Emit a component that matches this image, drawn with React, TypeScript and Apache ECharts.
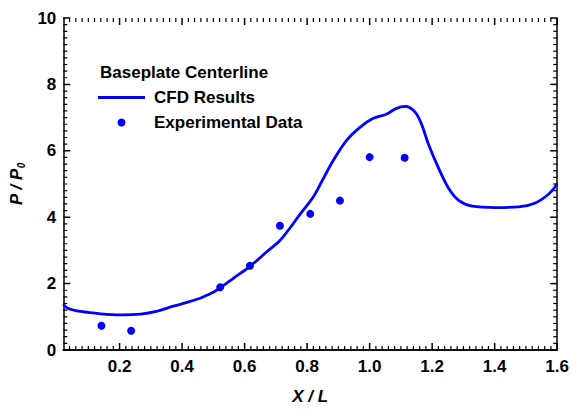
import React, { useEffect, useRef } from "react";
import * as echarts from "echarts";

// Pressure ratio along the baseplate centerline
const cfdX = [0.02, 0.034, 0.076, 0.14, 0.203, 0.267, 0.321, 0.372, 0.458, 0.5, 0.52, 0.564, 0.617, 0.67, 0.713, 0.755, 0.774, 0.819, 0.851, 0.883, 0.925, 0.968, 1.01, 1.053, 1.084, 1.114, 1.143, 1.164, 1.19, 1.222, 1.254, 1.286, 1.328, 1.403, 1.477, 1.53, 1.573, 1.6];
const cfdY = [1.38, 1.26, 1.16, 1.09, 1.06, 1.08, 1.17, 1.32, 1.56, 1.74, 1.86, 2.16, 2.52, 2.95, 3.3, 3.8, 4.05, 4.6, 5.15, 5.7, 6.3, 6.7, 6.97, 7.1, 7.27, 7.34, 7.19, 6.85, 6.15, 5.45, 4.85, 4.5, 4.33, 4.29, 4.31, 4.43, 4.7, 5.0];

const expX = [0.142, 0.237, 0.522, 0.617, 0.713, 0.81, 0.905, 1.0, 1.112];
const expY = [0.73, 0.58, 1.89, 2.54, 3.74, 4.1, 4.5, 5.81, 5.79];

const xMajorTicks = [0.2, 0.4, 0.6, 0.8, 1.0, 1.2, 1.4, 1.6];
const yMajorTicks = [0, 2, 4, 6, 8, 10];
const xMin = 0.02;
const xMax = 1.6;
const yMin = 0;
const yMax = 10;

// minor ticks: every 0.02 along x, every 0.2 along y
const xMinorTicks: number[] = [];
for (let i = 2; i < 80; i++) {
  if (i % 10 !== 0) xMinorTicks.push(Math.round(i * 2) / 100);
}
const yMinorTicks: number[] = [];
for (let i = 1; i < 50; i++) {
  if (i % 10 !== 0) yMinorTicks.push(Math.round(i * 2) / 10);
}

const FONT = "'Liberation Sans', Arial, Helvetica, sans-serif";
const BLUE = "#0000ff";
const MAJOR = 7;
const MINOR = 4;

export default function App() {
  const ref = useRef<HTMLDivElement>(null);

  useEffect(() => {
    if (!ref.current) return;
    const chart = echarts.init(ref.current, undefined, { renderer: "svg" });

    const frame = { show: true, lineStyle: { color: "#000", width: 1.5 } };
    const xBase = { type: "value" as const, min: xMin, max: xMax, splitLine: { show: false } };
    const yBase = { type: "value" as const, min: yMin, max: yMax, splitLine: { show: false } };

    // tick marks on all four sides, drawn as thin filled bars pointing into the plot
    const xTickData = [...xMajorTicks.map((v) => [v, MAJOR]), ...xMinorTicks.map((v) => [v, MINOR])];
    const yTickData = [...yMajorTicks.map((v) => [v, MAJOR]), ...yMinorTicks.map((v) => [v, MINOR])];
    const tickWidth = (len: number) => (len === MAJOR ? 1.5 : 1.2);
    const tickFill = { fill: "#000" };

    const renderXTick = (_p: unknown, api: any) => {
      const v = api.value(0);
      const len = api.value(1);
      const w = tickWidth(len);
      const b = api.coord([v, yMin]);
      const t = api.coord([v, yMax]);
      return {
        type: "group",
        children: [
          { type: "rect", shape: { x: b[0] - w / 2, y: b[1] - len, width: w, height: len }, style: tickFill },
          { type: "rect", shape: { x: t[0] - w / 2, y: t[1], width: w, height: len }, style: tickFill },
        ],
      };
    };
    const renderYTick = (_p: unknown, api: any) => {
      const v = api.value(0);
      const len = api.value(1);
      const w = tickWidth(len);
      const l = api.coord([xMin, v]);
      const r = api.coord([xMax, v]);
      return {
        type: "group",
        children: [
          { type: "rect", shape: { x: l[0], y: l[1] - w / 2, width: len, height: w }, style: tickFill },
          { type: "rect", shape: { x: r[0] - len, y: r[1] - w / 2, width: len, height: w }, style: tickFill },
        ],
      };
    };

    chart.setOption({
      animation: false,
      backgroundColor: "#fff",
      textStyle: { fontFamily: FONT },
      grid: { left: 62, right: 13, top: 18, bottom: 58, containLabel: false },
      graphic: [
        {
          type: "text",
          left: 100,
          top: 64,
          style: { text: "Baseplate Centerline", font: `bold 17px ${FONT}`, fill: "#000" },
        },
      ],
      legend: {
        orient: "vertical",
        left: 98,
        top: 89,
        padding: 0,
        itemWidth: 47,
        itemHeight: 8,
        itemGap: 8,
        textStyle: { fontSize: 17, fontWeight: "bold", color: "#000", fontFamily: FONT, padding: [0, 0, 0, 4] },
        data: [
          { name: "CFD Results", icon: "path://M0,0L47,0L47,3L0,3Z" },
          { name: "Experimental Data", icon: "circle" },
        ],
      },
      xAxis: [
        {
          ...xBase,
          position: "bottom",
          name: "X / L",
          nameLocation: "middle",
          nameGap: 38,
          nameTextStyle: { fontSize: 17, fontWeight: "bold", fontStyle: "italic", color: "#000", fontFamily: FONT },
          axisLine: frame,
          axisTick: { show: false },
          axisLabel: {
            show: true,
            margin: 8,
            fontSize: 17,
            fontWeight: "bold",
            color: "#000",
            fontFamily: FONT,
            customValues: xMajorTicks,
            formatter: (v: number) => v.toFixed(1),
          },
        },
        { ...xBase, position: "top", axisLine: frame, axisTick: { show: false }, axisLabel: { show: false } },
      ],
      yAxis: [
        {
          ...yBase,
          position: "left",
          name: "{m|P / P}{s|0}",
          nameLocation: "middle",
          nameRotate: 90,
          nameGap: 34,
          nameTextStyle: {
            color: "#000",
            rich: {
              m: { fontSize: 17, fontWeight: "bold", fontStyle: "italic", fontFamily: FONT, color: "#000", lineHeight: 20, verticalAlign: "middle" },
              s: { fontSize: 10, fontWeight: "bold", fontStyle: "italic", fontFamily: FONT, color: "#000", lineHeight: 20, verticalAlign: "bottom" },
            },
          },
          axisLine: frame,
          axisTick: { show: false },
          axisLabel: { margin: 7, fontSize: 17, fontWeight: "bold", color: "#000", fontFamily: FONT, customValues: yMajorTicks },
        },
        { ...yBase, position: "right", axisLine: frame, axisTick: { show: false }, axisLabel: { show: false } },
      ],
      series: [
        {
          type: "custom",
          xAxisIndex: 0,
          yAxisIndex: 0,
          data: xTickData,
          encode: { x: 0 },
          renderItem: renderXTick,
          silent: true,
          clip: false,
          z: 10,
        },
        {
          type: "custom",
          xAxisIndex: 0,
          yAxisIndex: 0,
          data: yTickData,
          encode: { y: 0 },
          renderItem: renderYTick,
          silent: true,
          clip: false,
          z: 10,
        },
        {
          name: "CFD Results",
          type: "line",
          xAxisIndex: 0,
          yAxisIndex: 0,
          data: cfdX.map((x, i) => [x, cfdY[i]]),
          smooth: 0.35,
          symbol: "none",
          lineStyle: { color: BLUE, width: 2.8 },
          itemStyle: { color: BLUE },
          z: 3,
        },
        {
          name: "Experimental Data",
          type: "scatter",
          xAxisIndex: 0,
          yAxisIndex: 0,
          data: expX.map((x, i) => [x, expY[i]]),
          symbol: "circle",
          symbolSize: 8,
          itemStyle: { color: BLUE, opacity: 1 },
          z: 4,
        },
      ],
    });

    return () => chart.dispose();
  }, []);

  return <div ref={ref} style={{ width: 572, height: 410, position: "absolute", left: 0, top: 0 }} />;
}
